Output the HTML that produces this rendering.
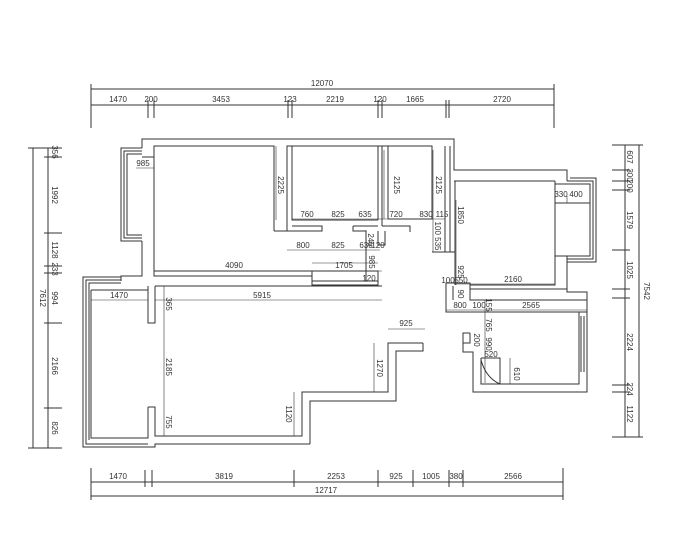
<!DOCTYPE html>
<html><head><meta charset="utf-8"><style>
html,body{margin:0;padding:0;background:#fff;width:700px;height:560px;overflow:hidden}
svg{display:block}
text{font-family:"Liberation Sans",sans-serif;font-size:8px;fill:#333}
.t{font-size:7px}
</style></head><body>
<svg width="700" height="560" viewBox="0 0 700 560" xmlns="http://www.w3.org/2000/svg">
<g stroke="#333" stroke-width="1" fill="none">
<line x1="91" y1="89" x2="554" y2="89"/>
<line x1="91" y1="105" x2="554" y2="105"/>
<g>
<line x1="91" y1="84" x2="91" y2="128"/><line x1="554" y1="84" x2="554" y2="128"/>
<line x1="148" y1="100" x2="148" y2="118"/><line x1="154" y1="100" x2="154" y2="118"/>
<line x1="288" y1="100" x2="288" y2="118"/><line x1="292" y1="100" x2="292" y2="118"/>
<line x1="378" y1="100" x2="378" y2="118"/><line x1="382" y1="100" x2="382" y2="118"/>
<line x1="446" y1="100" x2="446" y2="118"/><line x1="449" y1="100" x2="449" y2="118"/>
</g>
<line x1="91" y1="482" x2="563" y2="482"/>
<line x1="91" y1="496" x2="563" y2="496"/>
<line x1="91" y1="468" x2="91" y2="500"/><line x1="563" y1="468" x2="563" y2="500"/>
<line x1="145" y1="470" x2="145" y2="487"/><line x1="152" y1="470" x2="152" y2="487"/>
<line x1="294" y1="470" x2="294" y2="487"/><line x1="378" y1="470" x2="378" y2="487"/>
<line x1="413" y1="470" x2="413" y2="487"/><line x1="449" y1="470" x2="449" y2="487"/>
<line x1="463" y1="470" x2="463" y2="487"/>
<line x1="33" y1="148" x2="33" y2="448"/><line x1="48" y1="148" x2="48" y2="448"/>
<line x1="28" y1="148" x2="62" y2="148"/><line x1="28" y1="448" x2="62" y2="448"/>
<line x1="44" y1="157" x2="62" y2="157"/><line x1="44" y1="233" x2="62" y2="233"/>
<line x1="44" y1="266" x2="62" y2="266"/><line x1="44" y1="273" x2="62" y2="273"/>
<line x1="44" y1="323" x2="62" y2="323"/><line x1="44" y1="408" x2="62" y2="408"/>
<line x1="625" y1="145" x2="625" y2="437"/><line x1="639" y1="145" x2="639" y2="437"/>
<line x1="612" y1="145" x2="643" y2="145"/><line x1="612" y1="437" x2="643" y2="437"/>
<line x1="612" y1="170" x2="630" y2="170"/><line x1="612" y1="181" x2="630" y2="181"/>
<line x1="612" y1="190" x2="630" y2="190"/><line x1="612" y1="250" x2="630" y2="250"/>
<line x1="612" y1="289" x2="630" y2="289"/><line x1="612" y1="298" x2="630" y2="298"/>
<line x1="612" y1="385" x2="630" y2="385"/><line x1="612" y1="392" x2="630" y2="392"/>

<polyline points="142,148 142,139 454,139 454,170 567,170 567,181"/>
<polyline points="567,256 567,292 587,292 587,392 473,392 473,352 463,352 463,343 470,343 470,333"/>
<polyline points="142,148 121,148 121,241 142,241"/>
<polyline points="142,151 124,151 124,238 142,238"/>
<polyline points="142,154 127,154 127,235 142,235"/>
<polyline points="142,241 142,276 121,276 121,281"/>
<polyline points="154,241 154,146 274,146 274,231"/>
<line x1="154" y1="156" x2="154" y2="231"/>
<line x1="142" y1="157" x2="154" y2="157"/>
<polyline points="287,231 287,146 292,146 292,220 378,220"/>
<polyline points="292,146 378,146 378,220"/>
<polyline points="287,231 322,231 322,226 292,226"/>
<polyline points="353,226 353,231 366,231"/>
<line x1="353" y1="226" x2="378" y2="226"/>
<line x1="274" y1="231" x2="287" y2="231"/>
<polyline points="382,226 382,146 432,146 432,219 388,219"/>
<line x1="388" y1="146" x2="388" y2="219"/>
<polyline points="382,226 410,226 410,232"/>
<line x1="378" y1="146" x2="382" y2="146"/>
<line x1="445" y1="146" x2="445" y2="252"/>
<line x1="450" y1="146" x2="450" y2="252"/>
<line x1="455" y1="181" x2="455" y2="285"/>
<line x1="432" y1="252" x2="455" y2="252"/>
<line x1="454" y1="181" x2="555" y2="181"/>
<polyline points="555,181 555,285 470,285"/>
<polyline points="470,289 567,289"/>
<polyline points="555,184 590,184 590,256 555,256"/>
<polyline points="567,181 593,181 593,259 567,259"/>
<polyline points="570,178 596,178 596,262 567,262"/>
<line x1="555" y1="203" x2="590" y2="203"/>
<line x1="154" y1="271" x2="312" y2="271"/>
<polyline points="154,241 154,276 312,276"/>
<polyline points="312,271 378,271 378,285 312,285 312,271"/>
<line x1="312" y1="281" x2="378" y2="281"/>
<line x1="366" y1="231" x2="366" y2="281"/>
<polyline points="378,231 378,245 385,245 385,231"/>
<polyline points="155,286 382,286"/>
<polyline points="155,286 155,323 148,323 148,286"/>
<polyline points="148,407 155,407 155,436 302,436 302,392 388,392 388,343 423,343"/>
<polyline points="310,444 310,401 396,401 396,351 423,351 423,343"/>
<polyline points="121,277 83,277 83,447 155,447 155,444 310,444"/>
<polyline points="121,280 86,280 86,444 148,444"/>
<polyline points="121,283 89,283 89,440"/>
<polyline points="91,290 91,438 148,438 148,407"/>
<line x1="91" y1="290" x2="148" y2="290"/>
<polyline points="446,283 446,312 587,312"/>
<polyline points="446,283 470,283 470,300 587,300"/>
<line x1="453" y1="286" x2="453" y2="300"/>
<polyline points="481,358 481,384 579,384 579,312"/>
<line x1="581" y1="316" x2="581" y2="372"/><line x1="584" y1="316" x2="584" y2="372"/>
<polyline points="481,358 500,358 500,384"/>
<path d="M481,360 Q486,378 500,384"/>
<polyline points="463,343 463,333 470,333"/>
</g>
<g stroke="#333" stroke-width="0.6" fill="none">
<line x1="276" y1="146" x2="276" y2="220"/>
<line x1="292" y1="219" x2="445" y2="219"/>
<line x1="287" y1="250" x2="380" y2="250"/>
<line x1="154" y1="271" x2="382" y2="271"/>
<line x1="312" y1="263" x2="378" y2="263"/>
<line x1="155" y1="300" x2="382" y2="300"/>
<line x1="91" y1="300" x2="148" y2="300"/>
<line x1="164" y1="286" x2="164" y2="436"/>
<line x1="294" y1="392" x2="294" y2="436"/>
<line x1="374" y1="343" x2="374" y2="392"/>
<line x1="388" y1="329" x2="425" y2="329"/>
<line x1="136" y1="168" x2="154" y2="168"/>
<line x1="384" y1="150" x2="384" y2="219"/>
<line x1="433" y1="150" x2="433" y2="252"/>
<line x1="456" y1="200" x2="456" y2="285"/>
<line x1="455" y1="284" x2="555" y2="284"/>
<line x1="446" y1="310" x2="587" y2="310"/>
<line x1="485" y1="300" x2="485" y2="383"/>
<line x1="510" y1="358" x2="510" y2="384"/>
<line x1="366" y1="230" x2="366" y2="282"/>
<line x1="567" y1="196" x2="567" y2="203"/>
</g>
<text x="322" y="86" text-anchor="middle" font-size="9">12070</text>
<text x="118" y="102" text-anchor="middle">1470</text>
<text x="151" y="102" text-anchor="middle">200</text>
<text x="221" y="102" text-anchor="middle">3453</text>
<text x="290" y="102" text-anchor="middle">123</text>
<text x="335" y="102" text-anchor="middle">2219</text>
<text x="380" y="102" text-anchor="middle">120</text>
<text x="415" y="102" text-anchor="middle">1665</text>
<text x="502" y="102" text-anchor="middle">2720</text>
<text x="118" y="479" text-anchor="middle">1470</text>
<text x="224" y="479" text-anchor="middle">3819</text>
<text x="336" y="479" text-anchor="middle">2253</text>
<text x="396" y="479" text-anchor="middle">925</text>
<text x="431" y="479" text-anchor="middle">1005</text>
<text x="456" y="479" text-anchor="middle">380</text>
<text x="513" y="479" text-anchor="middle">2566</text>
<text x="326" y="493" text-anchor="middle" font-size="9">12717</text>
<g class="t">
<text transform="translate(40,298) rotate(90)" text-anchor="middle" font-size="8">7612</text>
<text transform="translate(52,152) rotate(90)" text-anchor="middle">356</text>
<text transform="translate(52,195) rotate(90)" text-anchor="middle">1992</text>
<text transform="translate(52,250) rotate(90)" text-anchor="middle">1128</text>
<text transform="translate(52,269) rotate(90)" text-anchor="middle">233</text>
<text transform="translate(52,298) rotate(90)" text-anchor="middle">994</text>
<text transform="translate(52,366) rotate(90)" text-anchor="middle">2166</text>
<text transform="translate(52,428) rotate(90)" text-anchor="middle">826</text>
<text transform="translate(644,291) rotate(90)" text-anchor="middle" font-size="8">7542</text>
<text transform="translate(627,157) rotate(90)" text-anchor="middle">607</text>
<text transform="translate(627,175) rotate(90)" text-anchor="middle" font-size="6">300</text>
<text transform="translate(627,186) rotate(90)" text-anchor="middle" font-size="6">200</text>
<text transform="translate(627,220) rotate(90)" text-anchor="middle">1579</text>
<text transform="translate(627,270) rotate(90)" text-anchor="middle">1025</text>
<text transform="translate(627,342) rotate(90)" text-anchor="middle">2224</text>
<text transform="translate(627,389) rotate(90)" text-anchor="middle">224</text>
<text transform="translate(627,414) rotate(90)" text-anchor="middle">1122</text>
<text x="143" y="166" text-anchor="middle">985</text>
<text transform="translate(278,185) rotate(90)" text-anchor="middle">2225</text>
<text transform="translate(394,185) rotate(90)" text-anchor="middle">2125</text>
<text transform="translate(436,185) rotate(90)" text-anchor="middle">2125</text>
<text transform="translate(458,215) rotate(90)" text-anchor="middle">1850</text>
<text x="307" y="217" text-anchor="middle">760</text>
<text x="338" y="217" text-anchor="middle">825</text>
<text x="365" y="217" text-anchor="middle">635</text>
<text x="396" y="217" text-anchor="middle">720</text>
<text x="426" y="217" text-anchor="middle">830</text>
<text x="442" y="217" text-anchor="middle">115</text>
<text x="303" y="248" text-anchor="middle">800</text>
<text x="338" y="248" text-anchor="middle">825</text>
<text x="366" y="248" text-anchor="middle">635</text>
<text transform="translate(368,240) rotate(90)" text-anchor="middle">245</text>
<text x="378" y="248" text-anchor="middle">120</text>
<text transform="translate(369,262) rotate(90)" text-anchor="middle">985</text>
<text x="369" y="281" text-anchor="middle">120</text>
<text transform="translate(435,236) rotate(90)" text-anchor="middle">100 535</text>
<text x="234" y="268" text-anchor="middle">4090</text>
<text x="344" y="268" text-anchor="middle">1705</text>
<text x="119" y="298" text-anchor="middle" font-size="8">1470</text>
<text x="262" y="298" text-anchor="middle">5915</text>
<text transform="translate(166,304) rotate(90)" text-anchor="middle">365</text>
<text transform="translate(166,367) rotate(90)" text-anchor="middle">2185</text>
<text transform="translate(166,422) rotate(90)" text-anchor="middle">755</text>
<text transform="translate(286,414) rotate(90)" text-anchor="middle">1120</text>
<text transform="translate(377,368) rotate(90)" text-anchor="middle">1270</text>
<text x="406" y="326" text-anchor="middle">925</text>
<text x="561" y="197" text-anchor="middle" font-size="6.5">330</text>
<text x="576" y="197" text-anchor="middle" font-size="6.5">400</text>
<text transform="translate(458,272) rotate(90)" text-anchor="middle">925</text>
<text x="448" y="283" text-anchor="middle">100</text>
<text x="461" y="283" text-anchor="middle">550</text>
<text x="513" y="282" text-anchor="middle">2160</text>
<text transform="translate(458,294) rotate(90)" text-anchor="middle">90</text>
<text x="460" y="308" text-anchor="middle">800</text>
<text x="479" y="308" text-anchor="middle">100</text>
<text transform="translate(486,305) rotate(90)" text-anchor="middle">155</text>
<text x="531" y="308" text-anchor="middle">2565</text>
<text transform="translate(486,325) rotate(90)" text-anchor="middle">765</text>
<text transform="translate(486,344) rotate(90)" text-anchor="middle">990</text>
<text transform="translate(474,340) rotate(90)" text-anchor="middle">200</text>
<text x="491" y="357" text-anchor="middle">520</text>
<text transform="translate(514,374) rotate(90)" text-anchor="middle">610</text>
</g>
</svg>
</body></html>
